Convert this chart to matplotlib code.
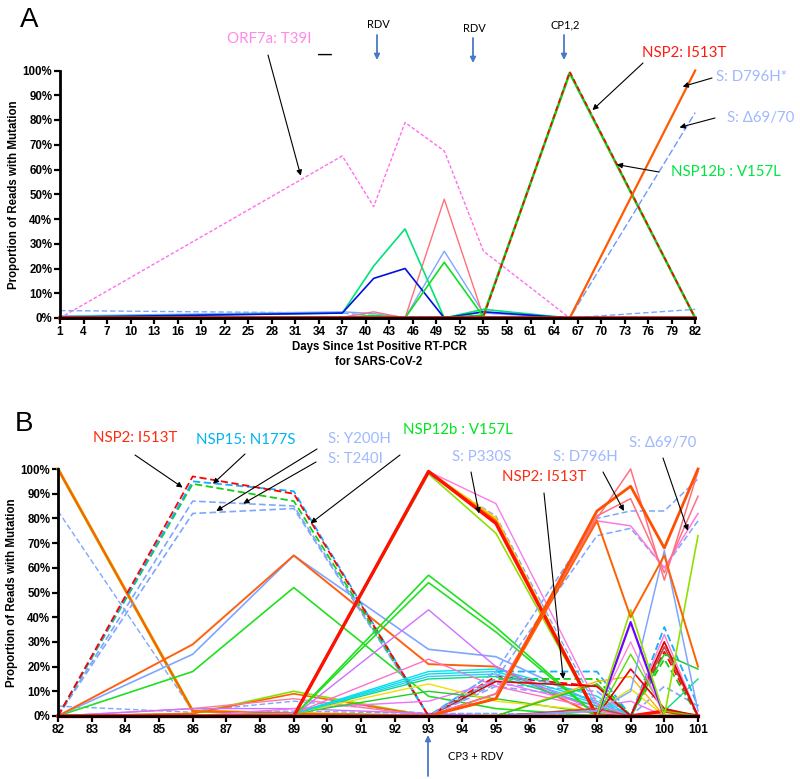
import matplotlib
matplotlib.use("Agg")
import matplotlib.pyplot as plt

plt.rcParams['font.family'] = ['Liberation Sans', 'DejaVu Sans']

# ---------------- panel A data ----------------
days_a = [1, 37, 41, 45, 50, 55, 66, 82]
orf7a_t39i = [0, 65.5, 45, 79, 67.5, 27, 0, 0]
dash_lblue_a = [3, 2, 1, 0.5, 0.5, 0.5, 0, 3.5]
teal_a = [0.5, 2, 21, 36, 0, 3.5, 0, 0]
blue_a = [0.3, 2, 16, 20, 0, 2.5, 0, 0]
salmon_a = [0, 0.3, 2.5, 0, 48, 0.5, 0, 0]
lblue_a = [0.8, 2.5, 1.8, 0, 27, 2, 0, 0]
green_a = [0, 0.2, 1, 0, 22.5, 0.5, 0, 0]
nsp12b_v157l_a = [0, 0, 0, 0, 0, 1, 99, 0]
nsp2_i513t_a = [0, 0, 0, 0, 0, 0.5, 99.5, 0]
s_d796h_a = [0, 0, 0, 0, 0, 0, 0, 100]
s_del6970_a = [0, 0, 0, 0, 0, 0, 0, 83]
red_base_a = [0, 0, 0, 0, 0, 0, 0, 0]
ticks_a = list(range(1, 83, 3))

# ---------------- panel B data ----------------
days_b = [82, 86, 89, 93, 95, 98, 99, 100, 101]
nsp2_dash_b = [0, 97, 90, 0, 16, 12, 0, 26, 0]
nsp15_n177s = [0, 95, 91, 0, 18, 18, 0, 36, 4]
nsp12b_dash_b = [0, 94, 87, 0, 15, 15, 0, 23, 0]
s_y200h = [0, 87, 85, 0, 13, 10, 0, 12, 4]
s_t240i = [0, 82, 84, 0, 12, 7, 0, 30, 0]
olive_high82 = [100, 2, 1, 0, 0, 0, 0, 0, 0]
orange_high82 = [100, 2, 1, 0, 0, 0, 0, 0, 0]
dash_high82 = [83, 2, 6, 1, 1, 0, 0, 0, 0]
dash_low82 = [4, 1.5, 2, 1, 1, 0, 0, 0, 0]
orange_rise89 = [0, 29, 65, 21, 20, 0, 0, 0, 0]
lblue_rise89 = [0, 25, 65, 27, 24, 5, 0, 2, 0]
green_rise89 = [0, 18, 52, 8, 3, 0, 0, 0, 0]
lime_low89 = [0, 1, 10, 0, 0, 0, 0, 0, 0]
orange_low89 = [0, 1, 9, 0, 0, 0, 0, 0, 0]
pink_low89 = [0, 3, 7, 0, 0, 0, 0, 0, 0]
violet_low89 = [0, 3, 3, 1, 0, 0, 0, 0, 0]
pink_93 = [0, 0, 0, 99, 86, 5, 0, 0, 0]
dash_93 = [0, 0, 0, 98, 81, 3, 0, 0, 0]
yellow_93 = [0, 0, 0, 99, 80, 0, 0, 0, 0]
orange_93 = [0, 0, 0, 99, 79, 0, 0, 0, 0]
purple_93 = [0, 0, 0, 99, 79, 0, 0, 0, 0]
lime_93 = [0, 0, 0, 98, 74, 0, 0, 0, 0]
red_93 = [0, 0, 0, 99, 78, 0, 0, 2, 0]
green1_93 = [0, 0, 0, 57, 36, 0, 0, 0, 0]
green2_93 = [0, 0, 0, 54, 34, 0, 0, 0, 0]
violet_93 = [0, 0, 0, 43, 20, 2, 0, 0, 0]
pink_mid93 = [0, 0, 1, 23, 12, 3, 0, 0, 0]
cyan1_93 = [0, 0, 1, 18, 19, 8, 0, 0, 0]
cyan2_93 = [0, 0, 1, 17, 18, 6, 0, 0, 0]
sky_93 = [0, 0, 1, 16, 17, 5, 0, 0, 0]
teal_93 = [0, 0, 1, 15, 16, 4, 0, 2, 15]
yellow_mid93 = [0, 0, 1, 13, 6, 2, 11, 0, 0]
green_low93 = [0, 0, 1, 10, 7, 1, 0, 0, 0]
magenta_low93 = [0, 0, 3, 6, 14, 4, 6, 0, 0]
orange1_98 = [0, 0, 0, 0, 7, 83, 93, 68, 100]
orange2_98 = [0, 0, 0, 0, 7, 79, 40, 65, 20]
salmon1_98 = [0, 0, 0, 0, 9, 80, 100, 55, 99]
salmon2_98 = [0, 0, 0, 0, 9, 81, 88, 58, 89]
pink_98 = [0, 0, 0, 0, 9, 79, 77, 60, 82]
s_d796h_b = [0, 0, 0, 0, 18, 80, 83, 83, 96]
s_del6970_b = [0, 0, 0, 0, 15, 73, 76, 60, 79]
lime_99 = [0, 0, 0, 0, 0, 0, 43, 0, 73]
purple_99 = [0, 0, 0, 0, 0, 0, 38, 0, 0]
lblue_100 = [0, 0, 0, 0, 0, 2, 10, 67, 2]
pink_99 = [0, 0, 0, 0, 0, 2, 30, 0, 0]
green_99 = [0, 0, 0, 0, 0, 0, 25, 2, 0]
red_99 = [0, 0, 0, 0, 0, 0, 19, 3, 0]
red_100 = [0, 0, 0, 0, 14, 12, 0, 30, 0]
amber_98 = [0, 0, 0, 0, 0, 14, 16, 0, 0]
pink_100 = [0, 0, 0, 0, 0, 2, 0, 33, 0]
brown_100 = [0, 0, 0, 0, 0, 3, 0, 28, 0]
green_101 = [0, 0, 0, 0, 0, 13, 0, 25, 19]
ticks_b = list(range(82, 102))
pct_ticks = list(range(0, 101, 10))


def px(x, y):
    return (x / 800.0, 1 - y / 779.0)


def style_axes(ax, days, ticks):
    ax.set_xlim(days[0], days[-1])
    ax.set_ylim(0, 100)
    ax.set_xticks(ticks)
    ax.set_xticklabels([str(t) for t in ticks], fontweight='bold', fontsize=8.5)
    ax.set_yticks(pct_ticks)
    ax.set_yticklabels([str(t) + '%' for t in pct_ticks], fontweight='bold', fontsize=8.3)
    for s in ['top', 'right']:
        ax.spines[s].set_visible(False)
    for s in ['left', 'bottom']:
        ax.spines[s].set_linewidth(2)
    ax.tick_params(width=1.6, length=4, pad=1.5)
    ax.set_ylabel('Proportion of Reads with Mutation', fontweight='bold', fontsize=8.3, labelpad=2)


fig = plt.figure(figsize=(8, 7.79), dpi=100)

# ================= panel A =================
axA = fig.add_axes([0.075, 1 - 318 / 779.0, 0.794, 247.5 / 779.0])
linesA = [
    (dash_lblue_a, '#7fa6ff', (0, (4, 2)), 1.0),
    (lblue_a, '#7fa6ff', '-', 1.0),
    (salmon_a, '#ff7078', '-', 1.0),
    (teal_a, '#00e27a', '-', 1.2),
    (blue_a, '#0010e0', '-', 1.2),
    (green_a, '#10e020', '-', 1.2),
    (orf7a_t39i, '#ff6ef0', (0, (2.5, 1.5)), 1.0),
    (nsp12b_v157l_a, '#10d020', '-', 1.8),
    (nsp2_i513t_a, '#ff0000', (0, (3, 2)), 1.2),
    (s_del6970_a, '#6f98ff', (0, (5, 2)), 1.0),
    (s_d796h_a, '#ff5a00', '-', 1.6),
    (red_base_a, '#ee1010', '-', 2.6),
]
for vals, col, ls, lw in linesA:
    axA.plot(days_a, vals, color=col, linestyle=ls, linewidth=lw, clip_on=False)
style_axes(axA, days_a, ticks_a)

fig.text(*px(20, 20), 'A', fontsize=20, va='center', ha='left')
fig.text(*px(379, 347), 'Days Since 1st Positive RT-PCR', fontweight='bold', fontsize=8.3,
         ha='center', va='center')
fig.text(*px(379, 362), 'for SARS-CoV-2', fontweight='bold', fontsize=8.3,
         ha='center', va='center')

lab = dict(family=['Lato', 'DejaVu Sans'], fontsize=10.8, va='center', ha='left')
arr = dict(arrowstyle='-|>', color='black', lw=0.8, mutation_scale=8, shrinkA=0, shrinkB=0)
fig.text(*px(227, 39), 'ORF7a: T39I', color='#ff8ae8', **lab)
fig.text(*px(325, 55), '\u2014', fontsize=10, fontweight='bold', ha='center', va='center')
fig.text(*px(642, 53), 'NSP2: I513T', color='#ff1a10', **lab)
fig.text(*px(716, 77), 'S: D796H*', color='#9fb8ff', **lab)
fig.text(*px(727, 118), 'S: \u039469/70', color='#9fb8ff', **lab)
fig.text(*px(671, 172), 'NSP12b : V157L', color='#00e640', **lab)

axA.annotate('', xy=(31.7, 57.5), xycoords='data', xytext=px(268, 55),
             textcoords='figure fraction', arrowprops=arr)
axA.annotate('', xy=(68.9, 84), xycoords='data', xytext=px(643, 63),
             textcoords='figure fraction', arrowprops=arr)
axA.annotate('', xy=(80.4, 93.5), xycoords='data', xytext=px(712, 78),
             textcoords='figure fraction', arrowprops=arr)
axA.annotate('', xy=(80, 77), xycoords='data', xytext=px(715, 118),
             textcoords='figure fraction', arrowprops=arr)
axA.annotate('', xy=(72, 62), xycoords='data', xytext=px(659, 172),
             textcoords='figure fraction', arrowprops=arr)

small = dict(family=['Lato', 'DejaVu Sans'], fontsize=8, ha='center', va='center')
blue_arr = dict(arrowstyle='-|>', color='#4a78c8', lw=1.3, mutation_scale=8, shrinkA=0, shrinkB=0)
for x, y, t in [(378, 25, 'RDV'), (474, 28, 'RDV'), (565, 25, 'CP1,2')]:
    fig.text(*px(x, y), t, **small)
    axA.annotate('', xy=px(x - 1, y + 35), xycoords='figure fraction', xytext=px(x - 1, y + 10),
                 textcoords='figure fraction', arrowprops=blue_arr)

# ================= panel B =================
axB = fig.add_axes([0.0725, 1 - 716 / 779.0, 0.8, 247 / 779.0])
LB = '#7fa6ff'
D = (0, (4, 2))
linesB = [
    (dash_low82, LB, D, 1.0),
    (dash_high82, LB, D, 1.0),
    (olive_high82, '#c8b000', '-', 2.2),
    (orange_high82, '#ff6000', '-', 1.4),
    (lime_low89, '#88e000', '-', 1.2),
    (orange_low89, '#ff6000', '-', 1.2),
    (pink_low89, '#ff78a0', '-', 1.0),
    (violet_low89, '#d070ff', '-', 1.0),
    (green_rise89, '#20e020', '-', 1.2),
    (lblue_rise89, LB, '-', 1.2),
    (orange_rise89, '#ff6010', '-', 1.4),
    (s_t240i, LB, D, 1.2),
    (s_y200h, LB, D, 1.2),
    (nsp12b_dash_b, '#10d010', D, 1.3),
    (nsp15_n177s, '#10b0ff', D, 1.3),
    (nsp2_dash_b, '#ff0000', D, 1.3),
    (magenta_low93, '#f070ff', '-', 1.0),
    (green_low93, '#20d020', '-', 1.0),
    (yellow_mid93, '#f0e000', '-', 1.0),
    (teal_93, '#00e080', '-', 1.0),
    (sky_93, '#30c8ff', '-', 1.0),
    (cyan2_93, '#00e0e8', '-', 1.0),
    (cyan1_93, '#00e0e8', '-', 1.0),
    (pink_mid93, '#ff70c8', '-', 1.0),
    (violet_93, '#d070ff', '-', 1.0),
    (green2_93, '#20e020', '-', 1.2),
    (green1_93, '#20e020', '-', 1.2),
    (lime_93, '#90e000', '-', 1.2),
    (pink_93, '#ff78e8', '-', 1.0),
    (dash_93, LB, D, 1.0),
    (purple_93, '#7020e0', '-', 1.4),
    (yellow_93, '#ffd000', '-', 1.6),
    (orange_93, '#ff7000', '-', 1.6),
    (red_93, '#ff1000', '-', 2.4),
    (amber_98, '#ffb000', '-', 1.0),
    (pink_100, '#ff78d0', '-', 1.0),
    (brown_100, '#c04848', '-', 1.2),
    (green_101, '#20d020', '-', 1.1),
    (red_100, '#e80000', '-', 1.2),
    (red_99, '#e80000', '-', 1.2),
    (green_99, '#50e000', '-', 1.0),
    (pink_99, '#ff80e0', '-', 1.0),
    (lblue_100, LB, '-', 1.1),
    (purple_99, '#7000ff', '-', 1.6),
    (lime_99, '#90e000', '-', 1.2),
    (s_del6970_b, LB, D, 1.1),
    (s_d796h_b, LB, D, 1.1),
    (pink_98, '#ff78e0', '-', 1.1),
    (salmon2_98, '#ff7080', '-', 1.1),
    (salmon1_98, '#ff7080', '-', 1.1),
    (orange2_98, '#ff6000', '-', 1.4),
    (orange1_98, '#ff5000', '-', 2.0),
]
for vals, col, ls, lw in linesB:
    axB.plot(days_b, vals, color=col, linestyle=ls, linewidth=lw, clip_on=False)
axB.plot(days_b, [0] * len(days_b), color='#ee1010', linewidth=2.4, clip_on=False)
style_axes(axB, days_b, ticks_b)

fig.text(*px(15, 424), 'B', fontsize=20, va='center', ha='left')
fig.text(*px(93, 438), 'NSP2: I513T', color='#ff2a10', **lab)
fig.text(*px(196, 440), 'NSP15: N177S', color='#00b4f0', **lab)
fig.text(*px(328, 439), 'S: Y200H', color='#9fb8ff', **lab)
fig.text(*px(328, 459), 'S: T240I', color='#9fb8ff', **lab)
fig.text(*px(403, 430), 'NSP12b : V157L', color='#00e620', **lab)
fig.text(*px(452, 457), 'S: P330S', color='#9fb8ff', **lab)
fig.text(*px(553, 457), 'S: D796H', color='#9fb8ff', **lab)
fig.text(*px(629, 443), 'S: \u039469/70', color='#9fb8ff', **lab)
fig.text(*px(502, 477), 'NSP2: I513T', color='#ff2a10', **lab)

arrowsB = [
    ((135, 455), (85.7, 92.5)),
    ((245, 454), (86.6, 94)),
    ((317, 449), (86.7, 83)),
    ((316, 462), (87.5, 86)),
    ((400, 455), (89.5, 78)),
    ((471, 472), (94.5, 82)),
    ((544, 493), (97.0, 15)),
    ((603, 472), (98.8, 83)),
    ((663, 458), (100.7, 75)),
]
for (tx, ty), tip in arrowsB:
    axB.annotate('', xy=tip, xycoords='data', xytext=px(tx, ty),
                 textcoords='figure fraction', arrowprops=arr)

fig.text(*px(448, 757), 'CP3 + RDV', family=['Lato', 'DejaVu Sans'], fontsize=8,
         ha='left', va='center')
axB.annotate('', xy=px(428, 735), xycoords='figure fraction', xytext=px(428, 776),
             textcoords='figure fraction', arrowprops=blue_arr)

fig.savefig('out.png', dpi=100)
